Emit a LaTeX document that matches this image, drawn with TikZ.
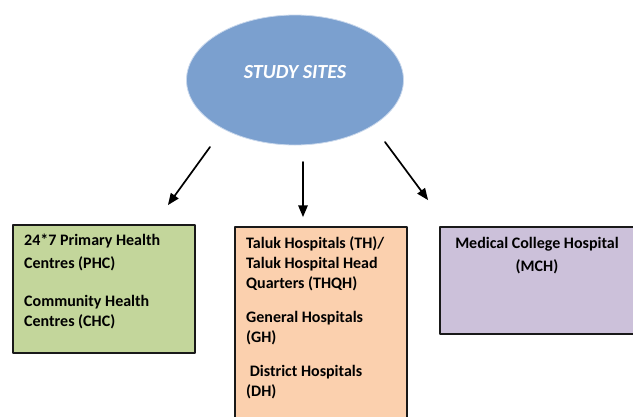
\documentclass[tikz,border=0pt]{standalone}
\usepackage{fontspec}
\setmainfont{Carlito}
\usetikzlibrary{arrows, positioning, shapes.geometric}
\usepackage{xcolor}

\definecolor{siteblue}{HTML}{7BA0CF}
\definecolor{siterim}{HTML}{C9D8EC}
\definecolor{phcgreen}{HTML}{C3D69B}
\definecolor{thpeach}{HTML}{FBD0AE}
\definecolor{mchlilac}{HTML}{CCC1DA}

\tikzset{
  sitebox/.style={draw=black!90, line width=1.5pt, rectangle, inner sep=0pt, anchor=north west},
  boxtext/.style={inner sep=0pt, align=left, anchor=north west},
  sitearrow/.style={->, line width=1.7pt}
}

\begin{document}
\begin{tikzpicture}[line cap=round,line join=round,>=triangle 45,x=1pt,y=-1pt, every node/.style={font=\bfseries\fontsize{16}{20}\selectfont}]
\useasboundingbox (0,0) rectangle (633,416);
\clip (0,0) rectangle (633,416);

% ellipse
\node (sites) [ellipse, draw=siterim, line width=0.8pt, fill=siteblue, minimum width=217pt, minimum height=130pt] at (295,80) {};
\node (sitestext) [text=white, font=\bfseries\itshape\fontsize{20}{24}\selectfont] at ([yshift=8pt]sites.center) {STUDY SITES};

% boxes
\node (phc) [sitebox, fill=phcgreen, minimum width=182pt, minimum height=128pt] at (12,224) {};
\node (th) [sitebox, fill=thpeach, minimum width=172pt, minimum height=210pt] at (234,226) {};
\node (mch) [sitebox, fill=mchlilac, minimum width=210pt, minimum height=107pt] at (439,226) {};

% texts
\node (phctext) [boxtext] at (24,233.5) {24*7 Primary Health\\[3pt] Centres (PHC)\\[18pt] Community Health\\ Centres (CHC)};
\node (thtext) [boxtext] at (246,236) {Taluk Hospitals (TH)/\\ Taluk Hospital Head\\ Quarters (THQH)\\[14pt] General Hospitals\\ (GH)\\[14pt] \ District Hospitals\\ (DH)};
\node (mchtext) [inner sep=0pt, align=center, anchor=north] at (537,237) {Medical College Hospital\\[3pt] (MCH)};

% arrows
\coordinate (left top) at (210,147);
\coordinate (left tip) at (168,205);
\coordinate (mid top) at (303,162);
\coordinate (mid tip) at (303,217);
\coordinate (right top) at (385,142);
\coordinate (right tip) at (428,200);
\draw [sitearrow] (left top) -- (left tip);
\draw [sitearrow] (mid top) -- (mid tip);
\draw [sitearrow] (right top) -- (right tip);

\end{tikzpicture}
\end{document}
